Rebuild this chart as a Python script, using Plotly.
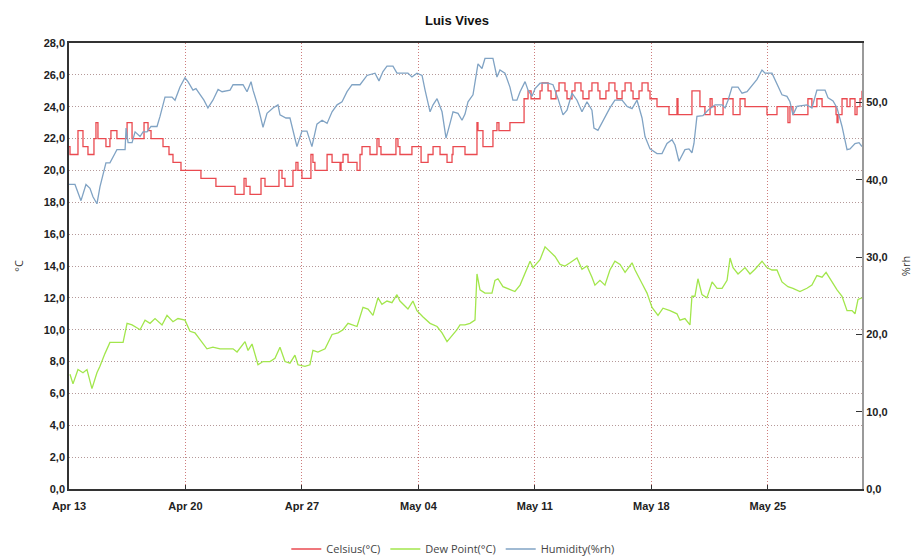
import pandas as pd
import plotly.graph_objects as go

START = "2024-04-13"

# ---- Celsius (step series): day offset from Apr 13, value in °C
temp_days = [0.00, 0.06, 0.54, 0.84, 1.14, 1.50, 1.62, 1.74, 2.22, 2.46, 2.52, 2.88, 3.49, 3.79,
             4.51, 4.75, 4.93, 5.65, 6.01, 6.25, 6.73, 7.93, 8.83, 9.98, 10.52, 10.64, 10.88,
             11.54, 11.78, 12.62, 12.80, 12.98, 13.46, 13.64, 13.76, 14.00, 14.54, 14.66, 14.78,
             15.51, 15.81, 16.29, 16.35, 16.47, 16.77, 17.31, 17.49, 17.61, 18.09, 18.51, 18.63,
             18.75, 19.65, 19.77, 19.89, 20.61, 21.16, 21.58, 21.88, 22.30, 22.72, 23.02, 23.08,
             23.80, 24.52, 24.58, 24.88, 25.48, 25.72, 25.84, 26.50, 27.35, 27.59, 27.77, 28.31,
             28.43, 28.79, 28.97, 29.27, 29.45, 29.81, 29.93, 30.23, 30.41, 30.77, 30.89, 31.25,
             31.43, 31.79, 31.91, 32.27, 32.45, 32.81, 32.93, 33.24, 33.42, 33.78, 33.90, 34.26,
             34.44, 34.80, 34.92, 35.34, 36.06, 36.54, 36.60, 37.44, 37.92, 38.22, 38.53, 38.65,
             38.83, 39.31, 39.91, 40.33, 40.63, 41.95, 42.55, 43.21, 43.33, 43.51, 44.41, 44.65,
             44.95, 45.26, 46.10, 46.16, 46.22, 46.46, 46.76, 46.94, 47.24, 47.36, 47.54, 47.66]
temp_vals = [21.5, 21.0, 22.5, 21.5, 21.0, 22.0, 23.0, 22.0, 21.5, 22.0, 22.5, 22.0, 23.0, 22.0,
             23.0, 22.5, 22.0, 21.5, 21.0, 20.5, 20.0, 19.5, 19.0, 18.5, 19.5, 19.0, 18.5,
             19.5, 19.0, 20.0, 19.5, 19.0, 20.0, 20.5, 20.0, 19.5, 21.0, 20.5, 20.0,
             21.0, 20.5, 20.0, 20.5, 21.0, 20.5, 20.0, 21.0, 21.5, 21.0, 22.0, 21.5,
             21.0, 22.0, 21.5, 21.0, 21.5, 20.5, 21.0, 21.5, 21.0, 20.5, 21.0, 21.5,
             21.0, 23.0, 22.5, 21.5, 22.5, 23.0, 22.5, 23.0, 24.5, 25.0, 24.5, 25.0,
             25.5, 25.0, 24.5, 25.0, 25.5, 25.0, 24.5, 25.0, 25.5, 25.0, 24.5, 25.0,
             25.5, 25.0, 24.5, 25.0, 25.5, 25.0, 24.5, 25.0, 25.5, 25.0, 24.5, 25.0,
             25.5, 25.0, 24.5, 24.0, 23.5, 24.5, 23.5, 25.0, 24.0, 23.5, 24.5, 24.0,
             23.5, 24.5, 23.5, 24.5, 24.0, 23.5, 24.0, 23.0, 24.0, 23.5, 24.5, 24.0,
             24.5, 24.0, 23.5, 23.0, 23.5, 24.5, 24.0, 24.5, 23.5, 24.0, 24.5, 25.0]

# ---- Dew Point (°C)
dew_days = [0.06, 0.24, 0.54, 0.84, 1.08, 1.38, 1.68, 1.86, 2.16, 2.46, 2.76, 3.25, 3.49, 3.79,
            4.27, 4.57, 4.87, 5.17, 5.59, 5.89, 6.25, 6.55, 6.97, 7.27, 7.57, 7.87, 8.29, 8.65,
            9.08, 9.86, 10.10, 10.58, 10.76, 11.00, 11.36, 11.66, 12.08, 12.38, 12.68, 12.98,
            13.28, 13.58, 13.76, 14.18, 14.48, 14.66, 14.96, 15.39, 15.81, 16.17, 16.47, 16.77,
            17.31, 17.67, 17.97, 18.27, 18.57, 18.81, 19.11, 19.41, 19.71, 19.89, 20.37, 20.67,
            20.91, 21.28, 21.70, 22.12, 22.42, 22.72, 23.02, 23.32, 23.50, 23.80, 24.10, 24.40,
            24.52, 24.70, 25.00, 25.42, 25.60, 25.78, 26.08, 26.50, 26.80, 27.11, 27.41, 27.71,
            27.89, 28.31, 28.61, 28.91, 29.21, 29.51, 29.81, 30.11, 30.53, 30.83, 31.13, 31.43,
            31.61, 31.91, 32.21, 32.51, 32.81, 33.12, 33.42, 33.84, 34.02, 34.44, 34.74, 35.04,
            35.40, 35.70, 36.12, 36.54, 36.72, 37.02, 37.32, 37.44, 37.62, 37.80, 38.04, 38.34,
            38.65, 38.95, 39.25, 39.55, 39.73, 39.91, 40.21, 40.63, 40.93, 41.23, 41.65, 41.95,
            42.25, 42.55, 42.85, 43.21, 43.51, 43.93, 44.35, 44.65, 44.95, 45.26, 45.50, 45.86,
            46.16, 46.46, 46.76, 47.06, 47.24, 47.42, 47.66]
dew_vals = [7.2, 6.6, 7.5, 7.3, 7.5, 6.3, 7.3, 7.7, 8.5, 9.2, 9.2, 9.2, 10.4, 10.3,
            10.0, 10.6, 10.4, 10.7, 10.3, 10.9, 10.5, 10.7, 10.6, 9.9, 9.8, 9.35, 8.8, 8.9,
            8.8, 8.8, 8.6, 9.25, 8.7, 9.1, 7.8, 8.0, 8.0, 8.2, 8.9, 8.0,
            7.9, 8.4, 7.8, 7.7, 7.8, 8.7, 8.6, 8.8, 9.7, 9.8, 10.0, 10.4,
            10.2, 11.4, 11.3, 10.9, 12.0, 11.6, 11.8, 11.7, 12.2, 11.8, 11.3, 11.8,
            11.2, 10.8, 10.4, 10.2, 9.8, 9.25, 9.6, 10.0, 10.3, 10.3, 10.4, 10.6,
            13.5, 12.5, 12.3, 12.3, 13.1, 13.2, 12.7, 12.5, 12.4, 12.8, 13.5, 14.3,
            13.9, 14.4, 15.2, 14.9, 14.6, 14.1, 14.0, 14.2, 14.5, 13.8, 14.0, 13.3,
            12.8, 13.1, 12.8, 13.75, 14.3, 14.1, 13.6, 14.2, 13.75, 12.9, 12.3, 11.4,
            10.9, 11.35, 11.2, 11.0, 10.6, 10.7, 10.3, 12.1, 12.1, 13.2, 12.2, 12.0,
            13.0, 12.6, 12.6, 13.1, 14.5, 13.9, 13.5, 13.9, 13.5, 13.8, 14.3, 13.9,
            13.75, 13.75, 13.0, 12.7, 12.6, 12.4, 12.6, 12.8, 13.4, 13.3, 13.6, 13.0,
            12.5, 12.1, 11.2, 11.2, 11.0, 11.9, 12.0]

# ---- Humidity (%rh)
hum_days = [0.00, 0.36, 0.72, 1.02, 1.26, 1.44, 1.68, 1.86, 2.22, 2.46, 2.76, 2.88, 3.37, 3.43,
            3.55, 3.79, 3.97, 4.27, 4.45, 4.69, 4.93, 5.29, 5.47, 5.77, 6.19, 6.37, 6.67, 6.97,
            7.15, 7.45, 7.63, 7.87, 8.11, 8.35, 8.65, 8.96, 9.20, 9.68, 9.86, 10.46, 10.70,
            10.94, 11.06, 11.36, 11.66, 11.90, 12.26, 12.56, 12.68, 13.04, 13.28, 13.70, 14.00,
            14.30, 14.60, 14.90, 15.21, 15.51, 15.81, 16.11, 16.41, 16.71, 17.01, 17.49, 17.91,
            18.39, 18.63, 18.87, 19.11, 19.47, 19.71, 20.37, 20.61, 20.91, 21.22, 21.40, 21.70,
            21.88, 22.12, 22.42, 22.66, 22.90, 23.08, 23.38, 23.62, 23.80, 23.98, 24.28, 24.46,
            24.58, 24.82, 25.00, 25.48, 25.60, 25.72, 25.90, 26.20, 26.50, 26.68, 26.92, 27.11,
            27.41, 27.59, 27.83, 28.01, 28.31, 28.79, 29.09, 29.39, 29.69, 29.93, 30.23, 30.53,
            30.83, 31.13, 31.43, 31.55, 31.79, 32.09, 32.51, 32.81, 33.24, 33.54, 33.84, 34.14,
            34.44, 34.62, 34.92, 35.34, 35.64, 35.94, 36.24, 36.42, 36.66, 37.02, 37.26, 37.44,
            37.56, 37.74, 38.10, 38.40, 38.83, 39.25, 39.43, 39.61, 39.85, 40.21, 40.45, 40.75,
            41.11, 41.35, 41.65, 41.83, 42.25, 42.55, 42.85, 43.15, 43.33, 43.51, 43.75, 44.35,
            44.65, 44.95, 45.44, 45.62, 45.92, 46.16, 46.46, 46.76, 46.94, 47.24, 47.48, 47.66]
hum_vals = [39.4, 39.4, 37.3, 39.4, 38.9, 37.8, 36.9, 39.1, 42.2, 42.2, 43.4, 43.9, 43.9, 46.7,
            44.8, 44.8, 46.2, 45.6, 46.2, 46.2, 46.9, 46.9, 48.2, 50.7, 50.7, 50.3, 52.0, 53.2,
            52.7, 51.6, 51.8, 51.0, 50.3, 49.3, 50.3, 51.7, 51.4, 51.6, 52.3, 52.3, 51.4,
            52.7, 51.6, 49.5, 46.8, 48.6, 49.3, 49.7, 48.4, 48.0, 48.0, 44.3, 46.3,
            46.3, 44.3, 47.2, 47.7, 47.3, 48.8, 49.7, 50.1, 51.4, 52.3, 52.3, 53.5,
            53.8, 52.8, 54.0, 54.7, 54.7, 53.8, 53.8, 53.3, 53.8, 53.5, 51.6, 48.8,
            49.7, 50.5, 48.8, 45.4, 47.3, 48.8, 48.6, 47.7, 48.5, 50.1, 51.0, 53.8,
            55.0, 54.4, 55.7, 55.7, 54.4, 53.3, 54.2, 53.8, 52.0, 50.3, 50.3, 51.4,
            52.7, 51.6, 50.8, 51.8, 52.5, 52.5, 52.3, 50.5, 48.4, 49.0, 51.2, 50.3,
            48.8, 50.1, 49.0, 46.7, 46.4, 47.7, 49.3, 50.3, 50.3, 49.5, 49.2, 50.3,
            48.0, 45.6, 44.0, 43.4, 43.4, 44.7, 45.2, 44.5, 42.4, 43.9, 44.0, 43.5,
            44.7, 48.2, 48.3, 49.0, 49.7, 49.7, 49.3, 50.3, 52.0, 52.0, 51.2, 51.4,
            52.3, 53.0, 54.2, 53.8, 53.8, 52.5, 51.0, 50.8, 50.1, 48.4, 49.5, 49.7,
            49.3, 51.6, 51.6, 50.6, 50.2, 49.3, 46.9, 43.9, 44.0, 44.7, 44.8, 44.3]

X_END_DAYS = 47.66
series_names = ["Celsius(°C)", "Dew Point(°C)", "Humidity(%rh)"]


def to_dates(days):
    return pd.Timestamp(START) + pd.to_timedelta(days, unit="D")


fig = go.Figure()
fig.add_trace(go.Scatter(x=to_dates(temp_days), y=temp_vals, name=series_names[0],
                         mode="lines", line=dict(color="#ea4a50", width=1.3, shape="hv")))
fig.add_trace(go.Scatter(x=to_dates(dew_days), y=dew_vals, name=series_names[1],
                         mode="lines", line=dict(color="#a2e64c", width=1.3)))
fig.add_trace(go.Scatter(x=to_dates(hum_days), y=hum_vals, name=series_names[2],
                         mode="lines", line=dict(color="#80a3c4", width=1.3), yaxis="y2"))

tickfont = dict(family="Liberation Sans, Arial, sans-serif", size=11, color="#222", weight=700)
vgrid_color = "rgba(190,80,80,0.75)"
hgrid_color = "rgba(150,110,110,0.7)"

fig.update_layout(
    width=914, height=556,
    margin=dict(l=69, r=52, t=43, b=67, autoexpand=False),
    paper_bgcolor="white", plot_bgcolor="white",
    separators=",.",
    title=dict(text="<b>Luis Vives</b>", x=0.5, xanchor="center", y=0.964, yanchor="middle",
               font=dict(family="Liberation Sans, Arial, sans-serif", size=13, color="#111")),
    showlegend=True,
    legend=dict(orientation="h", x=0.484, xanchor="center", y=-0.1345, yanchor="middle",
                font=dict(family="Open Sans, sans-serif", size=11, color="#444"),
                itemwidth=30, tracegroupgap=0),
    xaxis=dict(type="date",
               range=[to_dates([0.0])[0], to_dates([X_END_DAYS])[0]],
               tick0=START, dtick=7 * 86400000, tickformat="%b %d",
               showline=True, linecolor="#333", linewidth=1.5, mirror=True,
               ticks="inside", ticklen=4, tickcolor="#333", ticklabelstandoff=6,
               showgrid=True, gridcolor=vgrid_color, griddash="1px,2px", gridwidth=1,
               tickfont=tickfont, zeroline=False),
    yaxis=dict(range=[0, 28], dtick=2, tickformat=".1f",
               showline=True, linecolor="#333", linewidth=1.5,
               ticks="", showgrid=True, gridcolor=hgrid_color, griddash="1px,2px", gridwidth=1,
               tickfont=tickfont, zeroline=False,
               title=dict(text="°C", standoff=18,
                          font=dict(family="Open Sans, sans-serif", size=11, color="#333"))),
    yaxis2=dict(range=[0, 57.7], dtick=10, tickformat=".1f", overlaying="y", side="right",
                showline=True, linecolor="#9a9a9a", linewidth=2,
                ticks="inside", ticklen=6, tickcolor="#333",
                showgrid=False, zeroline=False, tickfont=tickfont,
                title=dict(text="%rh", standoff=16,
                           font=dict(family="Open Sans, sans-serif", size=11, color="#333"))),
)

fig.write_html("out.html")
